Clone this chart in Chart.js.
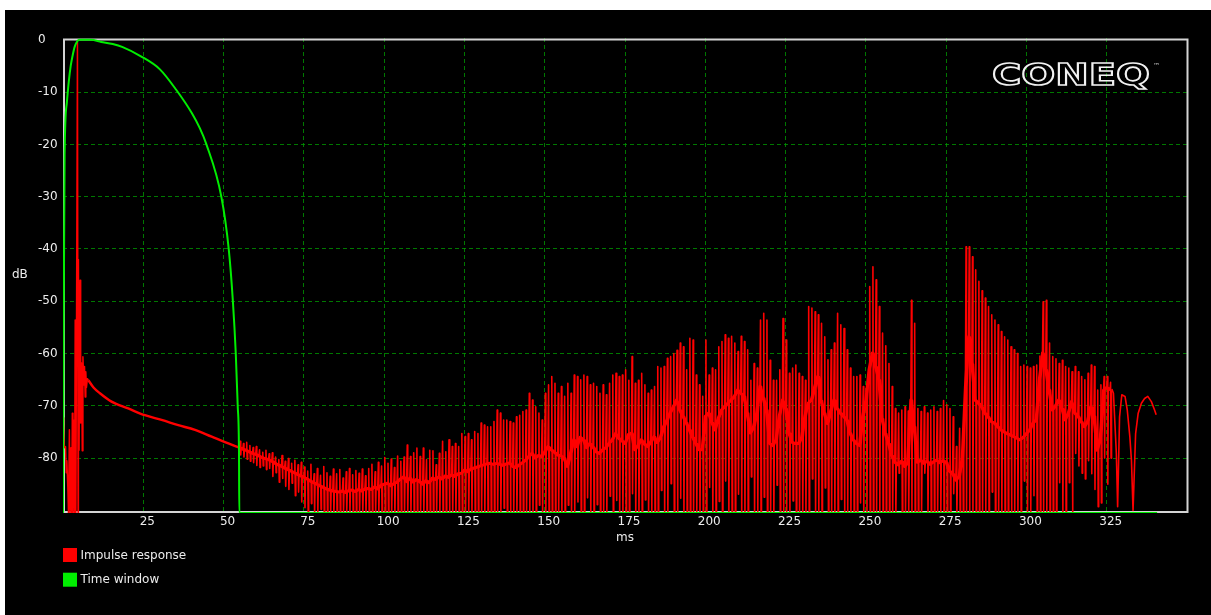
<!DOCTYPE html>
<html>
<head>
<meta charset="utf-8">
<title>Impulse response</title>
<script src="https://cdn.jsdelivr.net/npm/chart.js@4.4.1/dist/chart.umd.min.js"></script>
<style>
  html, body { margin: 0; padding: 0; background: #fff; }
  #wrap { position: absolute; left: 5px; top: 10px; width: 1206px; height: 605px; background: #000; }
  canvas { display: block; background: #000; }
</style>
</head>
<body>
<div id="wrap"><canvas id="chart" width="1206" height="605"></canvas></div>
<script>
// impulse response + time window, dB vs ms

const RED = '#ff0000';
const GREEN = '#00ee00';
const GRID = 'rgba(0, 150, 0, 0.8)';
const TEXT = '#ececec';
const FRAME = '#d4d4d4';
const FONT = '"DejaVu Sans", Verdana, sans-serif';

const X_MIN = 0, X_MAX = 350;
const Y_MIN = -90.5, Y_MAX = 0.35;
const xTicks = [25, 50, 75, 100, 125, 150, 175, 200, 225, 250, 275, 300, 325];
const yTicks = [0, -10, -20, -30, -40, -50, -60, -70, -80];

// time window (green)
const winT  = [0, 0.2, 0.5, 1.2, 1.8, 2.4, 3.0, 3.6, 4.3, 5.0, 8.7, 11.9, 15.5, 18.6, 24.4, 30.1, 35.3, 40.1, 42.6, 44.6, 49.3, 51.6, 52.9, 53.8, 54.4, 54.8, 54.9, 340.7];
const winDb = [-90.5, -56, -22, -12, -8, -5, -3, -1.4, -0.4, 0, 0, -0.4, -0.8, -1.4, -3.2, -5.6, -9.6, -14, -16.9, -19.9, -30, -40, -50, -60, -70, -78.8, -90.5, -90.5];

// impulse response: onset
const headT  = [0.0, 0.2, 0.4, 0.8, 1.0, 1.2, 1.5, 1.7, 2.0, 2.2, 2.5, 2.7, 2.9, 3.1, 3.3, 3.6, 3.8, 4.0, 4.3, 4.5, 4.7, 4.8, 5.0, 5.3, 5.5, 5.8, 6.0, 6.2, 6.5, 6.7, 6.9, 7.1, 7.3, 7.6, 7.9];
const headDb = [-72.3, -73.6, -78.0, -77.8, -82.8, -80.5, -85.5, -90.5, -74.6, -90.5, -78.0, -90.5, -71.4, -90.5, -72.7, -90.5, -53.6, -90.5, -39.0, -0.5, -90.5, -42.0, -78.5, -46.0, -73.3, -61.8, -78.6, -60.6, -66.0, -62.5, -68.3, -63.5, -66.5, -64.8, -65.1];

// impulse response: smooth decay
const decayT  = [7.9, 9.5, 11.5, 15.1, 20.3, 25.5, 30.7, 35.9, 41.1, 46.3, 51.5, 55.0];
const decayDb = [-65.1, -66.5, -67.6, -69.2, -70.5, -71.8, -72.7, -73.7, -74.6, -75.9, -77.2, -78.0];

// impulse response: one ripple per ms from 55 ms (peak / centre / trough, dB)
const spikeStart = 55;
const irTop = [
  -76.8, -77.2, -77.0, -77.6, -78.0, -77.8, -78.4, -78.9, -78.5, -79.2,
  -79.0, -79.8, -80.3, -79.5, -80.6, -80.1, -81.0, -80.4, -81.3, -80.8,
  -81.7, -82.5, -81.2, -83.0, -82.0, -83.3, -81.6, -82.8, -83.5, -82.1,
  -83.0, -82.2, -83.8, -82.6, -82.0, -83.2, -82.4, -82.9, -82.1, -83.4,
  -82.0, -81.2, -82.6, -80.8, -81.5, -79.9, -81.0, -80.2, -81.8, -79.6,
  -80.6, -79.8, -77.5, -79.7, -79.0, -78.1, -79.7, -78.1, -80.3, -78.5,
  -78.6, -81.3, -79.1, -76.8, -78.8, -76.5, -77.8, -77.2, -77.8, -75.3,
  -75.9, -75.3, -76.5, -74.9, -75.3, -73.3, -73.7, -74.0, -74.0, -73.0,
  -70.8, -71.4, -72.7, -72.7, -73.0, -73.3, -72.1, -71.8, -71.1, -70.8,
  -67.6, -68.9, -70.2, -71.4, -72.7, -67.6, -66.0, -64.4, -65.7, -67.6,
  -66.3, -68.2, -65.7, -67.6, -64.1, -64.4, -65.0, -64.1, -64.4, -66.0,
  -65.7, -66.3, -67.6, -66.0, -67.9, -65.7, -64.1, -63.8, -64.4, -64.1,
  -63.1, -65.1, -60.6, -65.7, -65.1, -63.8, -66.0, -67.6, -67.0, -66.3,
  -62.5, -62.8, -62.5, -60.9, -60.6, -60.0, -59.4, -58.0, -58.7, -63.1,
  -57.1, -57.4, -64.1, -66.0, -68.2, -57.4, -64.1, -62.8, -63.1, -58.7,
  -57.7, -56.4, -57.1, -56.7, -58.0, -59.6, -56.7, -57.7, -59.3, -65.1,
  -61.9, -62.8, -53.6, -52.3, -53.6, -61.3, -65.1, -65.1, -63.1, -53.3,
  -57.4, -63.8, -62.8, -62.2, -63.8, -64.4, -65.1, -51.0, -51.3, -52.0,
  -52.6, -54.2, -56.8, -61.2, -59.3, -58.0, -52.3, -54.5, -55.2, -59.3,
  -62.8, -64.4, -64.4, -64.1, -66.3, -66.6, -47.2, -43.4, -45.9, -51.0,
  -56.1, -58.5, -61.9, -66.3, -70.5, -71.4, -70.8, -70.2, -71.0, -49.8,
  -54.2, -70.5, -71.1, -70.2, -71.4, -70.8, -70.2, -71.1, -70.5, -69.0,
  -69.8, -70.5, -72.1, -77.8, -74.3, -75.0, -39.6, -39.6, -41.5, -44.0,
  -46.2, -48.0, -49.4, -51.0, -52.6, -53.6, -54.5, -55.8, -56.8, -57.4,
  -58.7, -59.3, -60.0, -62.5, -62.2, -62.5, -62.8, -62.5, -62.2, -60.5,
  -50.1, -49.8, -58.0, -60.6, -61.0, -61.9, -61.3, -62.5, -62.8, -63.5,
  -62.5, -63.5, -64.4, -65.0, -63.8, -62.2, -62.5, -67.0, -66.0, -64.4,
  -64.4, -65.5
];
const irMid = [
  -78.0, -78.3, -78.5, -78.8, -79.1, -79.3, -79.6, -79.9, -80.1, -80.3,
  -80.6, -81.0, -81.3, -81.6, -81.9, -82.2, -82.5, -82.8, -83.1, -83.4,
  -83.7, -84.0, -84.4, -84.7, -85.0, -85.3, -85.6, -85.9, -86.1, -86.3,
  -86.4, -86.5, -86.3, -86.6, -86.2, -86.1, -86.4, -86.0, -86.3, -85.9,
  -85.8, -86.0, -85.5, -85.9, -85.2, -85.0, -84.8, -85.3, -84.9, -84.6,
  -84.0, -83.6, -84.5, -83.8, -84.6, -84.1, -84.5, -85.0, -84.3, -84.7,
  -83.8, -84.1, -83.6, -84.0, -83.4, -83.7, -83.2, -83.5, -83.0, -82.9,
  -82.3, -82.6, -82.1, -81.9, -81.7, -81.5, -81.3, -81.1, -81.0, -81.2,
  -81.0, -81.2, -81.4, -81.1, -80.9, -81.6, -81.8, -81.3, -80.9, -80.4,
  -79.7, -79.1, -80.0, -79.5, -79.7, -78.8, -77.8, -78.4, -78.9, -79.4,
  -79.6, -80.0, -81.6, -79.1, -76.5, -77.8, -76.0, -76.5, -78.0, -77.2,
  -77.9, -78.8, -79.1, -78.4, -78.0, -77.2, -76.5, -75.3, -76.2, -76.7,
  -77.2, -75.5, -75.2, -78.4, -77.6, -76.5, -77.3, -77.8, -76.9, -75.9,
  -77.0, -76.0, -74.0, -72.8, -71.4, -70.2, -68.9, -70.8, -72.0, -73.2,
  -74.6, -76.0, -77.2, -78.4, -78.4, -72.0, -71.4, -73.2, -74.6, -72.4,
  -70.8, -70.2, -69.5, -68.9, -68.2, -67.0, -67.6, -68.2, -71.4, -75.2,
  -74.0, -71.4, -66.3, -68.5, -70.8, -77.2, -77.6, -76.5, -72.0, -68.9,
  -70.5, -75.2, -77.0, -77.2, -77.2, -76.0, -72.0, -69.5, -68.9, -66.5,
  -64.4, -69.0, -71.4, -73.4, -71.0, -68.9, -70.5, -71.4, -72.0, -72.7,
  -75.2, -76.5, -77.2, -77.6, -72.0, -68.9, -63.0, -59.9, -62.5, -65.0,
  -72.5, -75.3, -77.2, -79.5, -80.8, -81.3, -80.6, -81.6, -80.9, -68.9,
  -74.0, -80.8, -80.4, -81.0, -80.6, -81.2, -80.7, -80.4, -80.9, -80.5,
  -80.8, -82.5, -83.0, -84.2, -83.5, -80.0, -66.3, -56.8, -62.0, -68.9,
  -69.5, -70.2, -71.4, -72.1, -73.0, -73.3, -74.0, -74.6, -75.0, -75.3,
  -75.6, -75.9, -76.2, -76.5, -76.0, -75.3, -74.6, -73.3, -72.7, -65.0,
  -59.9, -63.1, -67.0, -70.8, -70.0, -68.9, -70.5, -72.7, -71.4, -69.2,
  -71.4, -72.0, -73.0, -74.0, -73.0, -70.2, -72.0, -78.5, -76.0, -67.0,
  -66.5, -67.0
];
const irLow = [
  -79.4, -79.8, -80.2, -80.6, -80.9, -81.4, -81.8, -81.5, -82.2, -82.0,
  -83.5, -82.8, -84.6, -83.9, -85.4, -86.0, -84.8, -87.2, -86.5, -88.4,
  -89.5, -90.5, -88.7, -90.5, -90.5, -89.8, -90.5, -90.5, -90.5, -90.5,
  -90.5, -90.5, -90.5, -90.5, -90.5, -90.5, -90.5, -90.5, -90.5, -90.5,
  -90.5, -90.5, -90.5, -90.5, -90.5, -90.5, -90.5, -90.5, -90.5, -90.5,
  -90.5, -90.5, -90.5, -90.5, -90.5, -90.5, -90.5, -90.5, -90.5, -90.5,
  -90.5, -90.5, -90.5, -90.5, -90.5, -90.5, -90.5, -90.5, -90.5, -90.5,
  -90.5, -90.5, -90.5, -90.5, -90.5, -90.5, -90.5, -90.5, -90.5, -90.5,
  -90.5, -90.5, -89.6, -90.5, -90.5, -90.5, -90.5, -90.5, -90.5, -90.5,
  -90.5, -90.5, -90.5, -89.0, -90.5, -90.5, -90.5, -90.5, -90.5, -90.5,
  -90.5, -90.5, -89.0, -90.5, -90.5, -88.4, -90.5, -90.5, -87.6, -90.5,
  -90.5, -88.9, -90.5, -90.5, -90.5, -87.3, -90.5, -88.1, -90.5, -90.5,
  -90.5, -90.5, -86.8, -90.5, -90.5, -90.5, -88.0, -90.5, -90.5, -90.5,
  -90.5, -86.2, -90.5, -90.5, -84.9, -90.5, -90.5, -87.7, -90.5, -90.5,
  -90.5, -90.5, -90.5, -90.5, -90.5, -90.5, -85.6, -90.5, -90.5, -88.3,
  -90.5, -84.4, -90.5, -90.5, -90.5, -86.9, -90.5, -90.5, -90.5, -83.6,
  -90.5, -90.5, -90.5, -87.5, -90.5, -90.5, -90.5, -85.2, -90.5, -90.5,
  -90.5, -90.5, -88.2, -90.5, -90.5, -90.5, -90.5, -90.5, -84.0, -90.5,
  -90.5, -90.5, -85.7, -90.5, -90.5, -90.5, -90.5, -87.9, -90.5, -90.5,
  -90.5, -90.5, -90.5, -88.6, -90.5, -90.5, -90.5, -90.5, -90.5, -90.5,
  -90.5, -90.5, -90.5, -90.5, -90.5, -82.9, -90.5, -90.5, -90.5, -90.5,
  -90.5, -90.5, -90.5, -82.9, -90.5, -90.5, -90.5, -90.5, -90.5, -90.5,
  -90.5, -90.5, -86.8, -90.5, -90.5, -90.5, -90.5, -90.5, -90.5, -90.5,
  -90.5, -90.5, -90.5, -90.5, -86.5, -90.5, -90.5, -90.5, -90.5, -90.5,
  -90.5, -90.5, -90.5, -90.5, -84.4, -90.5, -90.5, -87.2, -90.5, -90.5,
  -90.5, -90.5, -90.5, -90.5, -90.5, -84.7, -90.5, -90.5, -84.7, -90.5,
  -79.1, -81.5, -82.9, -84.0, -80.5, -83.0, -86.0, -89.3, -88.6, -80.0,
  -85.0, -80.0
];

// impulse response: last few ms
const tailT  = [326.6, 327.1, 328.0, 328.4, 329.0, 329.7, 330.7, 331.4, 332.2, 332.7, 333.2, 334.0, 334.8, 335.8, 336.8, 337.8, 338.9, 339.9, 340.4];
const tailDb = [-66.8, -67.6, -79.1, -89.3, -72.1, -67.9, -68.2, -70.8, -75.9, -80.4, -90.0, -75.3, -71.4, -69.5, -68.6, -68.2, -69.2, -70.8, -71.7];

const toXY = (xs, ys) => xs.map((x, i) => ({ x, y: ys[i] }));

// each ms: centre -> peak -> trough -> centre
function spikePath() {
  const pts = [];
  irMid.forEach((m, i) => {
    const t = spikeStart + i;
    pts.push({ x: t, y: m }, { x: t + 0.2, y: irTop[i] }, { x: t + 0.35, y: irLow[i] }, { x: t + 0.5, y: m });
  });
  return pts;
}

const lineBase = { pointRadius: 0, tension: 0, fill: false, borderJoinStyle: 'round' };

const datasets = [
  { ...lineBase, label: 'Time window', data: toXY(winT, winDb), borderColor: GREEN, backgroundColor: GREEN, borderWidth: 2, cubicInterpolationMode: 'monotone' },
  { ...lineBase, label: 'Impulse response', data: toXY(headT, headDb), borderColor: RED, backgroundColor: RED, borderWidth: 1.5 },
  { ...lineBase, label: '', data: toXY(decayT, decayDb), borderColor: RED, borderWidth: 2.4, cubicInterpolationMode: 'monotone' },
  { ...lineBase, label: '', data: spikePath(), borderColor: RED, borderWidth: 1.6 },
  { ...lineBase, label: '', data: irMid.map((m, i) => ({ x: spikeStart + i, y: m })), borderColor: RED, borderWidth: 3 },
  { ...lineBase, label: '', data: toXY(tailT, tailDb), borderColor: RED, borderWidth: 1.6 }
];

const legendOrder = ['Impulse response', 'Time window'];

const framePlugin = {
  id: 'frame',
  beforeDatasetsDraw(chart) {
    const { ctx, chartArea: a } = chart;
    ctx.save();
    ctx.strokeStyle = FRAME;
    ctx.lineWidth = 2;
    ctx.strokeRect(a.left + 1, a.top + 1.5, a.right - a.left - 0.5, a.bottom - a.top - 2.5);
    ctx.restore();
  }
};

const labelsPlugin = {
  id: 'labels',
  afterDraw(chart) {
    const { ctx, chartArea: a } = chart;
    ctx.save();
    ctx.fillStyle = TEXT;
    ctx.font = '12px ' + FONT;
    ctx.textBaseline = 'middle';
    ctx.textAlign = 'left';
    ctx.fillText('dB', 7, 265);
    ctx.textAlign = 'center';
    ctx.fillText('ms', (a.left + a.right) / 2, 528);

    // legend
    ctx.textAlign = 'left';
    legendOrder.forEach((name, i) => {
      const ds = chart.data.datasets.find(d => d.label === name);
      const y = 538 + i * 24.7;
      ctx.fillStyle = ds.borderColor;
      ctx.fillRect(58, y, 14, 14);
      ctx.fillStyle = TEXT;
      ctx.fillText(name, 75.5, y + 7.5);
    });

    // logo
    ctx.font = 'bold 30px ' + FONT;
    ctx.textBaseline = 'alphabetic';
    const word = 'CONEQ';
    const w = ctx.measureText(word).width;
    ctx.translate(987, 75);
    ctx.scale(158 / w, 1);
    ctx.strokeStyle = '#f2f2f2';
    ctx.lineWidth = 1.6;
    ctx.strokeText(word, 0, 0);
    ctx.setTransform(1, 0, 0, 1, 0, 0);
    ctx.font = '7px ' + FONT;
    ctx.fillStyle = '#cccccc';
    ctx.fillText('™', 1148, 58);
    ctx.restore();
  }
};

new Chart(document.getElementById('chart'), {
  type: 'line',
  data: { datasets },
  options: {
    responsive: false,
    animation: false,
    layout: { padding: { left: 33, top: 28, right: 24, bottom: 82 } },
    plugins: { legend: { display: false }, tooltip: { enabled: false } },
    scales: {
      x: {
        type: 'linear',
        min: X_MIN,
        max: X_MAX,
        z: 1,
        afterBuildTicks: s => { s.ticks = xTicks.map(v => ({ value: v })); },
        afterFit: s => { s.height = 20; },
        ticks: { color: TEXT, font: { family: FONT, size: 12 }, padding: 2, labelOffset: 4, maxRotation: 0, autoSkip: false },
        grid: { color: GRID, lineWidth: 1, drawTicks: false },
        border: { display: false, dash: [4, 3] }
      },
      y: {
        type: 'linear',
        min: Y_MIN,
        max: Y_MAX,
        z: 1,
        afterBuildTicks: s => { s.ticks = yTicks.map(v => ({ value: v })); },
        afterFit: s => { s.width = 25; },
        ticks: { color: TEXT, font: { family: FONT, size: 12 }, crossAlign: 'far', padding: 4, autoSkip: false },
        grid: { color: c => (c.tick && c.tick.value === 0 ? 'rgba(0,0,0,0)' : GRID), lineWidth: 1, drawTicks: false },
        border: { display: false, dash: [4, 3] }
      }
    }
  },
  plugins: [framePlugin, labelsPlugin]
});
</script>
</body>
</html>
